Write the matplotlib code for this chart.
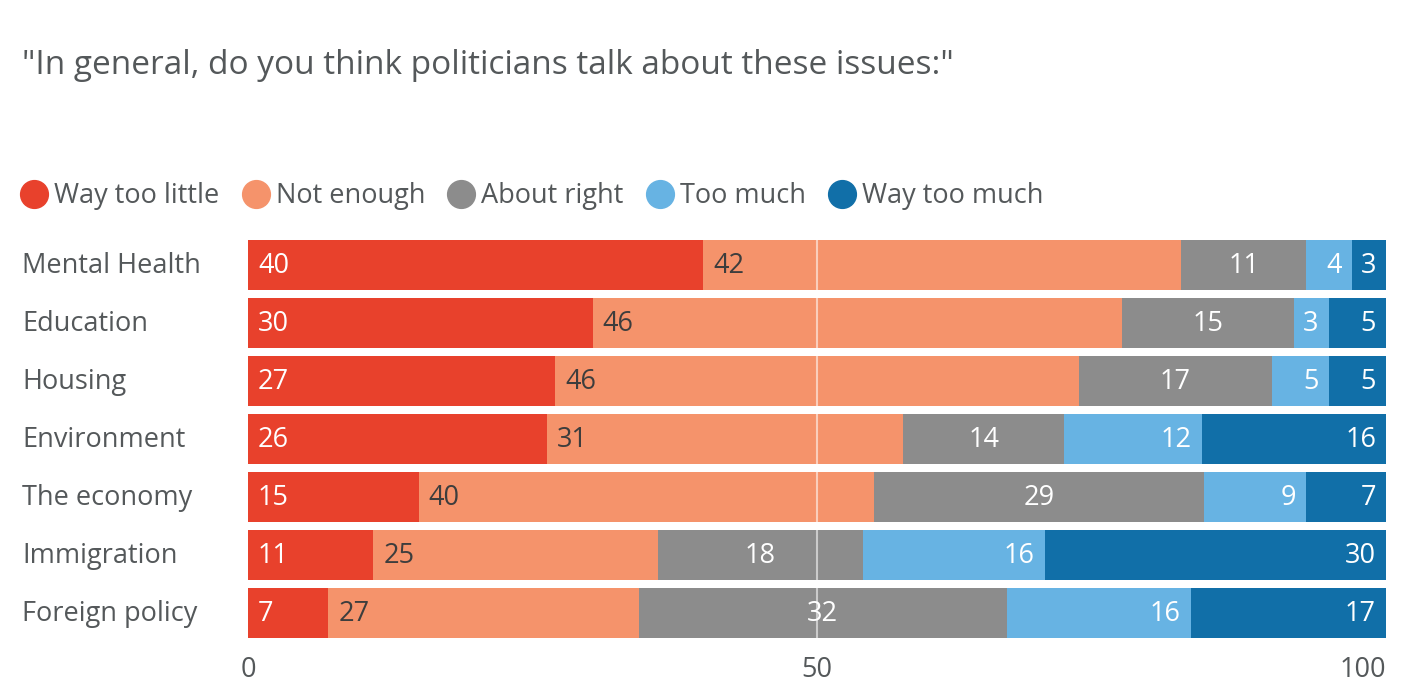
import matplotlib
matplotlib.use("Agg")
import matplotlib.pyplot as plt
from matplotlib.lines import Line2D
import numpy as np

plt.rcParams['font.family'] = ['Open Sans', 'DejaVu Sans']

title = '"In general, do you think politicians talk about these issues:"'
categories = ["Mental Health", "Education", "Housing", "Environment",
              "The economy", "Immigration", "Foreign policy"]
series_names = ["Way too little", "Not enough", "About right", "Too much", "Way too much"]
way_too_little = [40, 30, 27, 26, 15, 11, 7]
not_enough = [42, 46, 46, 31, 40, 25, 27]
about_right = [11, 15, 17, 14, 29, 18, 32]
too_much = [4, 3, 5, 12, 9, 16, 16]
way_too_much = [3, 5, 5, 16, 7, 30, 17]
xticks = [0, 50, 100]

colors = ["#E8412C", "#F5936B", "#8C8C8C", "#67B3E3", "#116FA8"]
label_colors = ["white", "#3d3d3d", "white", "white", "white"]
aligns = ["left", "left", "center", "right", "right"]
text_gray = "#54585A"
fs = 19.5

data = np.array([way_too_little, not_enough, about_right, too_much, way_too_much], dtype=float)
totals = data.sum(axis=0)
norm = data / totals * 100

fig = plt.figure(figsize=(14.08, 7.0), dpi=100)
ax = fig.add_axes([248/1408, 1-638/700, (1386-248)/1408, (638-240)/700])

y = np.arange(len(categories))
left = np.zeros(len(categories))
for i, name in enumerate(series_names):
    w = norm[i]
    ax.barh(y, w, left=left, height=50/58, color=colors[i], zorder=2, label=name)
    for j in range(len(categories)):
        if aligns[i] == "left":
            xpos, off, ha = left[j], 7.2, "left"
        elif aligns[i] == "center":
            xpos, off, ha = left[j] + w[j] / 2, 0, "center"
        else:
            xpos, off, ha = left[j] + w[j], -7.2, "right"
        ax.annotate(f"{int(data[i, j])}", (xpos, y[j]), xytext=(off, -0.7),
                    textcoords="offset points", ha=ha, va="center",
                    fontsize=fs, color=label_colors[i], zorder=4)
    left += w

ax.axvline(50, color="white", alpha=0.55, lw=1.5, zorder=3)

ax.set_xlim(0, 100)
ax.set_ylim(len(categories) - 1 + 25/58, -25/58)
ax.set_yticks([])
ax.set_xticks([])
for s in ax.spines.values():
    s.set_visible(False)

for t in xticks:
    ha = "right" if t == 100 else "center"
    ax.annotate(str(t), (t, 0), xycoords=ax.get_xaxis_transform(), xytext=(0, -23),
                textcoords="offset points", ha=ha, va="center", fontsize=fs, color=text_gray)

for j, c in enumerate(categories):
    ax.annotate(c, (0, y[j]), xycoords=("figure pixels", "data"), xytext=(22, -1),
                textcoords="offset pixels", ha="left", va="center",
                fontsize=fs, color=text_gray)

fig.text(22/1408, 1-65/700, title, ha="left", va="center", fontsize=24, color=text_gray)

handles = [Line2D([], [], marker="o", linestyle="", markersize=20, color=c) for c in colors]
fig.legend(handles, series_names, loc="center left", bbox_to_anchor=(20/1408, 1-196/700),
           ncol=5, frameon=False, fontsize=fs, handlelength=1.05, handletextpad=0.22,
           columnspacing=0.8, labelcolor=text_gray, borderaxespad=0, borderpad=0)

fig.savefig("out.png", dpi=100)
